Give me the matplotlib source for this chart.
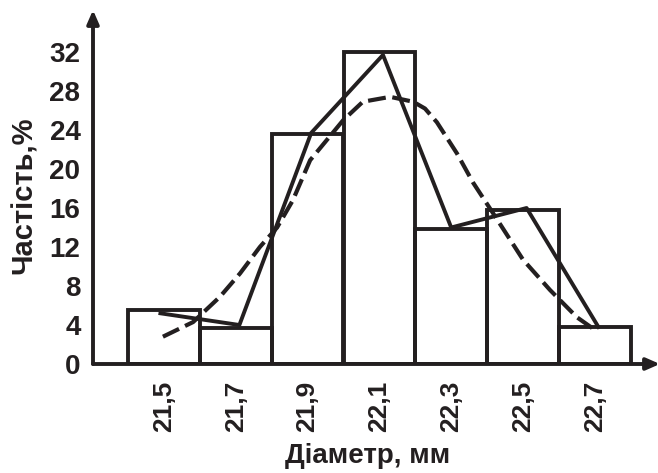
import matplotlib.pyplot as plt
import numpy as np

plt.rcParams['font.family'] = ['Liberation Sans', 'DejaVu Sans']
plt.rcParams['font.weight'] = 'bold'

INK = '#231f20'

# histogram: class centres (mm) and frequencies (%)
centers = [21.5, 21.7, 21.9, 22.1, 22.3, 22.5, 22.7]
freq = [5.5, 3.7, 23.6, 32.0, 13.8, 15.8, 3.8]
tick_labels = ['21,5', '21,7', '21,9', '22,1', '22,3', '22,5', '22,7']

# frequency polygon
poly_x = [21.49, 21.71, 21.91, 22.11, 22.30, 22.51, 22.71]
poly_y = [5.2, 4.0, 23.7, 31.7, 14.0, 16.0, 3.8]

# fitted (normal) curve
fit_x = [21.497, 21.581, 21.656, 21.712, 21.767, 21.815, 21.859, 21.907,
         21.999, 22.054, 22.130, 22.194, 22.227, 22.260, 22.316, 22.361,
         22.416, 22.500, 22.575, 22.650, 22.700]
fit_y = [2.8, 4.3, 6.9, 9.3, 12.0, 14.0, 16.8, 20.9,
         25.0, 26.9, 27.4, 26.9, 26.2, 24.8, 21.6, 18.6,
         15.5, 10.7, 7.6, 4.8, 3.5]

yticks = [0, 4, 8, 12, 16, 20, 24, 28, 32]

fig = plt.figure(figsize=(6.58, 4.73), dpi=100)
W, H = 658, 473
x0, x1 = 93, 660
y0, y1 = 364, 10
ax = fig.add_axes([x0 / W, (H - y0) / H, (x1 - x0) / W, (y0 - y1) / H])

xmin = 21.5 + (x0 - 164) / 359
xmax = 21.5 + (x1 - 164) / 359
ymax = (y0 - y1) / 9.75
ax.set_xlim(xmin, xmax)
ax.set_ylim(0, ymax)

ax.bar(centers, freq, width=0.2, fill=False, edgecolor=INK, linewidth=2.8, zorder=2)
ax.plot(poly_x, poly_y, color=INK, linewidth=2.8, zorder=3)
ax.plot(fit_x, fit_y, color=INK, linewidth=3.0, linestyle=(0, (4.3, 1.6)), zorder=3)

for s in ax.spines.values():
    s.set_visible(False)

# axes with arrow heads
ax.annotate('', xy=(0, 1), xytext=(0, 0), xycoords='axes fraction',
            arrowprops=dict(arrowstyle='-|>,head_length=0.8,head_width=0.35',
                            lw=2.8, color=INK, shrinkA=0, shrinkB=0), zorder=4)
ax.annotate('', xy=(1, 0), xytext=(0, 0), xycoords='axes fraction',
            arrowprops=dict(arrowstyle='-|>,head_length=0.8,head_width=0.35',
                            lw=2.8, color=INK, shrinkA=0, shrinkB=0), zorder=4)

ax.set_xticks(centers)
ax.set_xticklabels(tick_labels, rotation=90, fontsize=19, fontweight='bold', color=INK)
ax.set_yticks(yticks)
ax.set_yticklabels([str(v) for v in yticks], fontsize=20, fontweight='bold', color=INK)
ax.tick_params(axis='both', length=0)
ax.tick_params(axis='x', pad=12)
ax.tick_params(axis='y', pad=9)

fig.text(368 / W, 1 - 456 / H, 'Діаметр, мм', ha='center', va='center',
         fontsize=20, fontweight='bold', color=INK)
fig.text(24 / W, 1 - 195 / H, 'Частість,%', ha='center', va='center',
         rotation=90, fontsize=21, fontweight='bold', color=INK)

fig.savefig('out.png', dpi=100)
